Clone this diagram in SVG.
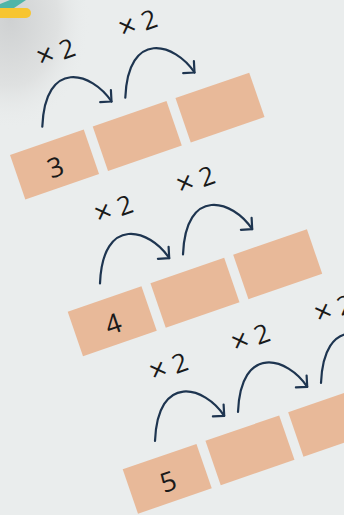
<svg xmlns="http://www.w3.org/2000/svg" width="344" height="515" viewBox="0 0 344 515">
<defs>
<radialGradient id="shade" cx="0" cy="0" r="1" gradientUnits="userSpaceOnUse" gradientTransform="translate(10,20) scale(80,110)">
<stop offset="0" stop-color="#cfd1d2"/>
<stop offset="0.6" stop-color="#dfe1e1"/>
<stop offset="1" stop-color="#eaeded" stop-opacity="0"/>
</radialGradient>
<marker id="ah" markerUnits="userSpaceOnUse" orient="42" refX="0" refY="0" markerWidth="20" markerHeight="20" style="overflow:visible">
<path d="M-8,-8 L0,0 L-8,8" fill="none" stroke="#1e3550" stroke-width="2.2" stroke-linecap="round" stroke-linejoin="round"/>
</marker>
</defs>
<style>
.box{fill:#e8b999}
.num{font-family:"Open Sans","DejaVu Sans",sans-serif;font-size:27px;fill:#1a1a1a;text-anchor:middle}
.lbl{font-family:"Open Sans","DejaVu Sans",sans-serif;font-size:26px;fill:#1a1a1a;text-anchor:middle}
.sx{font-size:30px}
.arc{fill:none;stroke:#1e3550;stroke-width:2.2;stroke-linecap:round;marker-end:url(#ah)}
</style>
<rect width="344" height="515" fill="#eaeded"/>
<rect width="344" height="515" fill="url(#shade)"/>
<polygon points="10,0 26,0 14,8 0,10 0,4" fill="#4fb5a8"/>
<path d="M0,8 H26 A5,5 0 0 1 26,18 H0 Z" fill="#f7c531"/>

<g id="row1">
<g id="r1b1" transform="translate(10,155) rotate(-19)"><rect class="box" width="78" height="47"/><text class="num" x="39" y="36">3</text></g>
<g id="r1b2" transform="translate(10,155) rotate(-19) translate(87.5,0)"><rect class="box" width="78" height="47"/></g>
<g id="r1b3" transform="translate(10,155) rotate(-19) translate(175,0)"><rect class="box" width="78" height="47"/></g>
</g>
<g id="row2">
<g id="r2b1" transform="translate(67.7,311.7) rotate(-19)"><rect class="box" width="78" height="47"/><text class="num" x="39" y="36">4</text></g>
<g id="r2b2" transform="translate(67.7,311.7) rotate(-19) translate(87.5,0)"><rect class="box" width="78" height="47"/></g>
<g id="r2b3" transform="translate(67.7,311.7) rotate(-19) translate(175,0)"><rect class="box" width="78" height="47"/></g>
</g>
<g id="row3">
<g id="r3b1" transform="translate(122.7,469.3) rotate(-19)"><rect class="box" width="78" height="47"/><text class="num" x="39" y="36">5</text></g>
<g id="r3b2" transform="translate(122.7,469.3) rotate(-19) translate(87.5,0)"><rect class="box" width="78" height="47"/></g>
<g id="r3b3" transform="translate(122.7,469.3) rotate(-19) translate(175,0)"><rect class="box" width="78" height="47"/></g>
</g>

<g id="connectors">
<path class="arc" d="M42.3,126.7 C45,58 92,72 111.5,101.5"/>
<path class="arc" d="M125.3,97.7 C128,29 175,43 194.5,72.5"/>
<path class="arc" d="M100,283.4 C102.7,214.7 149.7,228.7 169.2,258.2"/>
<path class="arc" d="M183,254.4 C185.7,185.7 232.7,199.7 252.2,229.2"/>
<path class="arc" d="M155,441 C157.7,372.3 204.7,386.3 224.2,415.8"/>
<path class="arc" d="M238,412 C240.7,343.3 287.7,357.3 307.2,386.8"/>
<path class="arc" d="M321,383 C323.7,314.3 370.7,328.3 390.2,357.8"/>
<text class="lbl" transform="translate(56,53) rotate(-20)" y="9"><tspan class="sx">×</tspan> 2</text>
<text class="lbl" transform="translate(138,24) rotate(-20)" y="9"><tspan class="sx">×</tspan> 2</text>
<text class="lbl" transform="translate(113.7,209.7) rotate(-20)" y="9"><tspan class="sx">×</tspan> 2</text>
<text class="lbl" transform="translate(195.7,180.7) rotate(-20)" y="9"><tspan class="sx">×</tspan> 2</text>
<text class="lbl" transform="translate(168.7,367.3) rotate(-20)" y="9"><tspan class="sx">×</tspan> 2</text>
<text class="lbl" transform="translate(250.7,338.3) rotate(-20)" y="9"><tspan class="sx">×</tspan> 2</text>
<text class="lbl" transform="translate(333.7,309.3) rotate(-20)" y="9"><tspan class="sx">×</tspan> 2</text>
</g>
</svg>
